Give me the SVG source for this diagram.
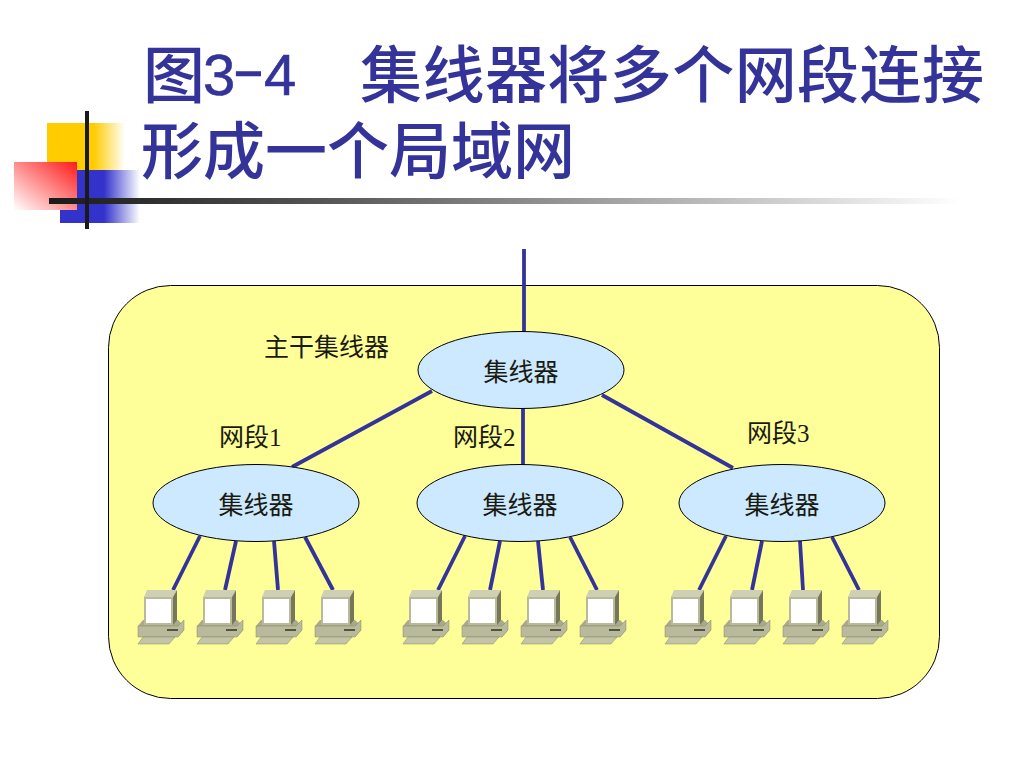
<svg xmlns="http://www.w3.org/2000/svg" xmlns:xlink="http://www.w3.org/1999/xlink" width="1024" height="768" viewBox="0 0 1024 768">
<style>
.title{font-family:"Noto Sans CJK SC","Liberation Sans",sans-serif;font-size:62px;font-weight:500;fill:#333399}
.digit{font-family:"Liberation Sans","Noto Sans",sans-serif;font-size:58px;font-weight:400;fill:#333399;stroke:#333399;stroke-width:.6}
.lbl{font-family:"Liberation Serif","Noto Sans CJK SC",serif;font-size:25px;fill:#1a1a10}
.hub{fill:#cce9ff;stroke:#000;stroke-width:1}
.link{stroke:#333399;stroke-width:3.800;fill:none;stroke-linecap:butt}
</style>
<defs>
<linearGradient id="gy" x1="0" x2="1" y1="0" y2="0"><stop offset="0" stop-color="#ffcc00"/><stop offset=".6" stop-color="#ffcc00"/><stop offset="1" stop-color="#ffcc00" stop-opacity="0"/></linearGradient>
<linearGradient id="gb" x1="0" x2="1" y1="0" y2="0"><stop offset="0" stop-color="#3333cc"/><stop offset=".55" stop-color="#3333cc"/><stop offset="1" stop-color="#3333cc" stop-opacity="0"/></linearGradient>
<linearGradient id="gr" x1="1" x2="0" y1="0" y2="1"><stop offset="0" stop-color="#ff1a1a"/><stop offset="1" stop-color="#ffffff"/></linearGradient>
<linearGradient id="gl" x1="0" x2="1" y1="0" y2="0"><stop offset="0" stop-color="#1a1a1a"/><stop offset=".3" stop-color="#555"/><stop offset="1" stop-color="#fff"/></linearGradient>
<g id="pc">
<path d="M1 37 L6 31 L41 31 L47 37 L47 41 L41 48 L1 48Z" fill="#a9a98c"/>
<path d="M1 37 L41 37 L47 31 L47 41 L41 48 L1 48Z" fill="#b9b99c" stroke="#85856a" stroke-width=".5"/>
<rect x="30" y="40" width="11" height="2" fill="#55553f"/>
<path d="M6 48 L38 48 L32 55 L1 55Z" fill="#c4c4a8" stroke="#85856a" stroke-width=".5"/>
<path d="M7 8 L10 1 L40 1 L36 8Z" fill="#cfcfb4"/>
<path d="M36 8 L40 1 L40 31 L36 36Z" fill="#76765a"/>
<rect x="7" y="8" width="29" height="28" fill="#b9b99c"/>
<rect x="9" y="10" width="25" height="24" fill="#fff"/>
</g>
</defs>

<g id="decor">
<rect x="47" y="123" width="78" height="47" fill="url(#gy)"/>
<rect x="60" y="170" width="80" height="53" fill="url(#gb)"/>
<rect x="14" y="162" width="63" height="48" fill="url(#gr)"/>
<rect x="49" y="198" width="911" height="6" fill="url(#gl)"/>
<rect x="85" y="111" width="4" height="118" fill="#1a1a1a"/>
</g>

<g id="title">
<text class="title" x="143" y="98">图</text>
<text class="digit" x="203" y="95">3</text>
<text class="digit" transform="translate(232 89) scale(1.7 1)" x="0" y="0">-</text>
<text class="digit" x="264" y="95">4</text>
<text class="title" x="360" y="98" textLength="624" lengthAdjust="spacing">集线器将多个网段连接</text>
<text class="title" x="141" y="174">形成一个局域网</text>
</g>

<g id="cloud"><rect x="108.500" y="285.500" width="831" height="413" rx="62" ry="62" fill="#ffff99" stroke="#000" stroke-width="1"/></g>

<g id="connectors">
<line class="link" x1="524" y1="249" x2="524" y2="332"/>
<line class="link" x1="432" y1="391" x2="292" y2="467"/>
<line class="link" x1="523" y1="408" x2="523" y2="465"/>
<line class="link" x1="602" y1="395" x2="733" y2="468"/>
<line class="link" x1="200" y1="536" x2="173" y2="590"/>
<line class="link" x1="236" y1="541" x2="225" y2="590"/>
<line class="link" x1="274" y1="541" x2="278" y2="590"/>
<line class="link" x1="305" y1="537" x2="333" y2="590"/>
<line class="link" x1="465" y1="536" x2="438" y2="590"/>
<line class="link" x1="500" y1="541" x2="490" y2="590"/>
<line class="link" x1="538" y1="541" x2="543" y2="590"/>
<line class="link" x1="570" y1="537" x2="597" y2="590"/>
<line class="link" x1="726" y1="536" x2="699" y2="590"/>
<line class="link" x1="762" y1="541" x2="752" y2="590"/>
<line class="link" x1="800" y1="541" x2="803" y2="590"/>
<line class="link" x1="832" y1="537" x2="859" y2="590"/>
</g>

<g id="hub0"><ellipse class="hub" cx="521" cy="370" rx="103" ry="38.500"/><text class="lbl" x="521" y="381" text-anchor="middle">集线器</text></g>
<g id="hub1"><ellipse class="hub" cx="256" cy="503" rx="103" ry="38.500"/><text class="lbl" x="256" y="514" text-anchor="middle">集线器</text></g>
<g id="hub2"><ellipse class="hub" cx="520" cy="503" rx="103" ry="38.500"/><text class="lbl" x="520" y="514" text-anchor="middle">集线器</text></g>
<g id="hub3"><ellipse class="hub" cx="782" cy="503" rx="103" ry="38.500"/><text class="lbl" x="782" y="514" text-anchor="middle">集线器</text></g>

<g id="labels">
<text class="lbl" x="264" y="356">主干集线器</text>
<text class="lbl" x="219" y="446">网段1</text>
<text class="lbl" x="453" y="446">网段2</text>
<text class="lbl" x="747" y="442">网段3</text>
</g>

<g id="pc1"><use xlink:href="#pc" href="#pc" x="137" y="589"/></g>
<g id="pc2"><use xlink:href="#pc" href="#pc" x="196" y="589"/></g>
<g id="pc3"><use xlink:href="#pc" href="#pc" x="255" y="589"/></g>
<g id="pc4"><use xlink:href="#pc" href="#pc" x="314" y="589"/></g>
<g id="pc5"><use xlink:href="#pc" href="#pc" x="402" y="589"/></g>
<g id="pc6"><use xlink:href="#pc" href="#pc" x="461" y="589"/></g>
<g id="pc7"><use xlink:href="#pc" href="#pc" x="520" y="589"/></g>
<g id="pc8"><use xlink:href="#pc" href="#pc" x="579" y="589"/></g>
<g id="pc9"><use xlink:href="#pc" href="#pc" x="664" y="589"/></g>
<g id="pc10"><use xlink:href="#pc" href="#pc" x="723" y="589"/></g>
<g id="pc11"><use xlink:href="#pc" href="#pc" x="782" y="589"/></g>
<g id="pc12"><use xlink:href="#pc" href="#pc" x="841" y="589"/></g>
</svg>
